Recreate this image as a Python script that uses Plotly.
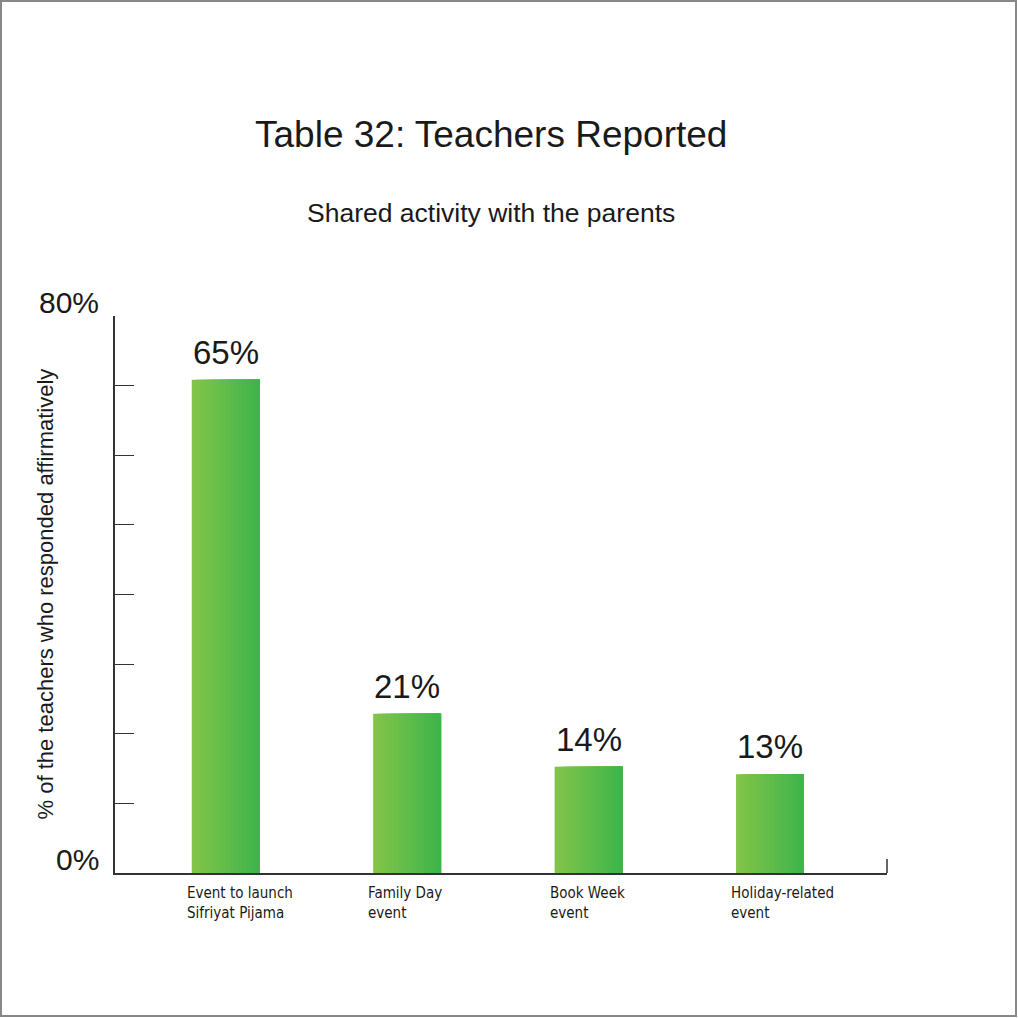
"""Teachers reported: shared activity with the parents."""

import plotly.graph_objects as go

CATEGORIES = ["Event to launch<br>Sifriyat Pijama", "Family Day<br>event", "Book Week<br>event",
              "Holiday-related<br>event"]
VALUES = [65, 21, 14, 13]
VALUE_LABELS = ["65%", "21%", "14%", "13%"]
Y_TICK_LABELS = ["0%", "80%"]

TITLE = "Table 32: Teachers Reported"
SUBTITLE = "Shared activity with the parents"
Y_TITLE = "% of the teachers who responded affirmatively"

W, H = 1018, 1018
L, R, T, B = 115, 131, 316, 145
PW, PH = W - L - R, H - T - B
X_RANGE = [-0.61, 3.645]
Y_TOP = 73.4          # drawn axis top (labelled 80% in the original)
BAR_W = 0.374
N_SLICES = 16
C_LEFT = (130, 196, 74)
C_RIGHT = (62, 181, 75)
FONT = "Liberation Sans, Arial, sans-serif"
LABEL_FONT = "Liberation Sans Narrow, DejaVu Sans Condensed, sans-serif"
INK = "#1a1a1a"


def _mix(t):
    return "rgb({},{},{})".format(*[round(a + (b - a) * t) for a, b in zip(C_LEFT, C_RIGHT)])


fig = go.Figure()
# horizontal gradient: each slice covers from its start to the bar's right edge,
# later slices paint over earlier ones so there are no seams
step = BAR_W / N_SLICES
for i in range(N_SLICES):
    fig.add_trace(
        go.Bar(
            x=CATEGORIES,
            y=VALUES,
            width=BAR_W - i * step,
            offset=-BAR_W / 2 + i * step,
            marker=dict(color=_mix(i / (N_SLICES - 1)), line=dict(width=0)),
            hoverinfo="skip" if i else None,
            showlegend=False,
        )
    )

bar_px = PW * BAR_W / (X_RANGE[1] - X_RANGE[0])
annotations = []
for cat, val, lab in zip(CATEGORIES, VALUES, VALUE_LABELS):
    annotations.append(dict(x=cat, y=val, text=lab, showarrow=False, yanchor="bottom", yshift=7,
                            font=dict(size=33, color=INK, family=FONT)))
    annotations.append(dict(x=cat, xshift=-bar_px / 2 - 7, y=0, yref="paper", yshift=-9,
                            text=cat, showarrow=False, xanchor="left", yanchor="top", align="left",
                            font=dict(size=15, color=INK, family=LABEL_FONT)))

annotations += [
    dict(x=(491 - L) / PW, y=(H - B - 135) / PH, xref="paper", yref="paper", text=TITLE,
         showarrow=False, xanchor="center", yanchor="middle",
         font=dict(size=37, color=INK, family=FONT)),
    dict(x=(491 - L) / PW, y=(H - B - 213) / PH, xref="paper", yref="paper", text=SUBTITLE,
         showarrow=False, xanchor="center", yanchor="middle",
         font=dict(size=26.5, color=INK, family=FONT)),
    dict(x=(45 - L) / PW, y=0.5, xref="paper", yref="paper", text=Y_TITLE, textangle=-90,
         showarrow=False, xanchor="center", yanchor="middle",
         font=dict(size=22, color=INK, family=FONT)),
    dict(x=-14 / PW, y=0, xref="paper", yref="paper", text=Y_TICK_LABELS[0], showarrow=False,
         xanchor="right", yanchor="bottom", yshift=-5, font=dict(size=30, color=INK, family=FONT)),
    dict(x=-14 / PW, y=1, xref="paper", yref="paper", text=Y_TICK_LABELS[1], showarrow=False,
         xanchor="right", yanchor="bottom", yshift=-5, font=dict(size=30, color=INK, family=FONT)),
]

fig.update_layout(
    width=W,
    height=H,
    margin=dict(l=L, r=R, t=T, b=B),
    paper_bgcolor="white",
    plot_bgcolor="white",
    barmode="overlay",
    xaxis=dict(range=X_RANGE, showticklabels=False, ticks="", showgrid=False,
               showline=True, linecolor="#333", linewidth=1.5, zeroline=False, fixedrange=True),
    yaxis=dict(range=[0, Y_TOP], tick0=0, dtick=Y_TOP / 8, ticks="inside", ticklen=19,
               tickcolor="#333", tickwidth=1, showticklabels=False, showgrid=False,
               showline=True, linecolor="#333", linewidth=1.5, zeroline=False),
    annotations=annotations,
    shapes=[
        # end tick on the x axis
        dict(type="line", xref="paper", yref="paper", x0=1, x1=1, y0=0, y1=14 / PH,
             line=dict(color="#333", width=1.5)),
        # frame around the whole picture
        dict(type="rect", xref="paper", yref="paper", x0=(1 - L) / PW, x1=(W - 2 - L) / PW,
             y0=-(B - 2) / PH, y1=(H - B - 1) / PH, line=dict(color="#888", width=2)),
    ],
)

fig.write_html("out.html", config={"displayModeBar": False},
               post_script="document.body.style.margin = '0';")
